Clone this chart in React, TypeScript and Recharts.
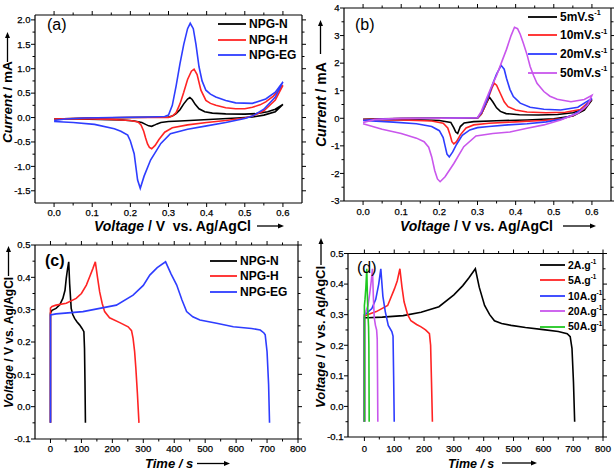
import React from 'react';
import { LineChart, Line, XAxis, YAxis, ReferenceLine, Legend } from 'recharts';

const FONT = '"Liberation Sans", Arial, Helvetica, sans-serif';
const BLACK = '#000000';
const RED = '#ff2424';
const BLUE = '#2e3dff';
const PURPLE = '#c956ec';
const GREEN = '#21c821';

// (a) CV of the three electrodes: forward scan 0 -> 0.6 V, then back to 0 V
const cvNV = [0, 0.05, 0.1, 0.2, 0.3, 0.31, 0.32, 0.33, 0.34, 0.35, 0.356, 0.362, 0.37, 0.38, 0.395, 0.415, 0.45, 0.5, 0.53, 0.56, 0.58, 0.6,
  0.58, 0.55, 0.52, 0.48, 0.43, 0.38, 0.33, 0.3, 0.28, 0.27, 0.262, 0.256, 0.248, 0.24, 0.23, 0.21, 0.18, 0.12, 0.06, 0];
const cvNI = [-0.03, -0.02, -0.01, 0, 0.01, 0.03, 0.08, 0.16, 0.28, 0.38, 0.41, 0.37, 0.27, 0.18, 0.12, 0.09, 0.075, 0.07, 0.08, 0.12, 0.17, 0.27,
  0.12, 0.05, 0.01, -0.01, -0.03, -0.05, -0.07, -0.08, -0.1, -0.13, -0.16, -0.18, -0.17, -0.14, -0.1, -0.07, -0.05, -0.04, -0.03, -0.03];
const cvHV = [0, 0.05, 0.1, 0.2, 0.3, 0.31, 0.32, 0.33, 0.34, 0.35, 0.36, 0.367, 0.375, 0.385, 0.398, 0.41, 0.424, 0.45, 0.476, 0.5, 0.52, 0.54, 0.555, 0.575, 0.6,
  0.58, 0.55, 0.52, 0.5, 0.45, 0.4, 0.35, 0.31, 0.29, 0.275, 0.265, 0.256, 0.25, 0.245, 0.24, 0.235, 0.228, 0.22, 0.2, 0.15, 0.1, 0.05, 0];
const cvHI = [-0.03, -0.02, -0.01, 0, 0, 0.03, 0.1, 0.28, 0.52, 0.78, 0.95, 0.99, 0.88, 0.56, 0.35, 0.29, 0.25, 0.2, 0.18, 0.18, 0.21, 0.26, 0.32, 0.44, 0.66,
  0.36, 0.14, 0.03, -0.01, -0.06, -0.1, -0.15, -0.21, -0.3, -0.45, -0.57, -0.64, -0.61, -0.54, -0.42, -0.28, -0.15, -0.09, -0.06, -0.04, -0.03, -0.03, -0.03];
const cvEGV = [0, 0.03, 0.08, 0.15, 0.25, 0.29, 0.3, 0.31, 0.32, 0.33, 0.34, 0.35, 0.357, 0.365, 0.372, 0.38, 0.388, 0.398, 0.41, 0.424, 0.45, 0.476, 0.52, 0.555, 0.58, 0.6,
  0.58, 0.55, 0.52, 0.5, 0.45, 0.4, 0.35, 0.305, 0.28, 0.253, 0.236, 0.226, 0.219, 0.21, 0.2, 0.193, 0.175, 0.158, 0.106, 0.05, 0];
const cvEGI = [-0.06, -0.03, -0.01, 0, 0.01, 0.02, 0.05, 0.25, 0.65, 1.1, 1.5, 1.82, 1.93, 1.82, 1.5, 1.04, 0.75, 0.56, 0.48, 0.42, 0.35, 0.3, 0.29, 0.38, 0.52, 0.73,
  0.42, 0.17, 0.03, -0.02, -0.1, -0.17, -0.24, -0.33, -0.53, -0.87, -1.2, -1.45, -1.28, -0.74, -0.48, -0.36, -0.28, -0.23, -0.14, -0.1, -0.08];

// (b) CV of NPG-EG at four scan rates
const cv5V = [0, 0.05, 0.1, 0.2, 0.3, 0.31, 0.32, 0.331, 0.34, 0.35, 0.36, 0.375, 0.41, 0.46, 0.51, 0.55, 0.58, 0.6,
  0.58, 0.55, 0.5, 0.43, 0.35, 0.29, 0.265, 0.255, 0.248, 0.243, 0.238, 0.23, 0.2, 0.1, 0];
const cv5I = [-0.04, -0.02, -0.01, 0, 0, 0.15, 0.45, 0.77, 0.6, 0.38, 0.25, 0.17, 0.13, 0.12, 0.14, 0.2, 0.35, 0.66,
  0.3, 0.08, -0.02, -0.06, -0.09, -0.12, -0.17, -0.3, -0.55, -0.5, -0.35, -0.15, -0.08, -0.05, -0.04];
const cv10V = [0, 0.05, 0.1, 0.2, 0.3, 0.31, 0.32, 0.33, 0.338, 0.344, 0.35, 0.36, 0.37, 0.38, 0.4, 0.43, 0.48, 0.53, 0.57, 0.6,
  0.58, 0.55, 0.52, 0.47, 0.4, 0.33, 0.29, 0.27, 0.255, 0.245, 0.238, 0.233, 0.228, 0.222, 0.21, 0.18, 0.1, 0];
const cv10I = [-0.05, -0.03, -0.01, 0, 0.01, 0.15, 0.45, 0.8, 1.1, 1.27, 1.2, 0.9, 0.6, 0.42, 0.3, 0.23, 0.2, 0.22, 0.32, 0.7,
  0.35, 0.1, -0.02, -0.08, -0.13, -0.18, -0.24, -0.35, -0.6, -0.85, -0.93, -0.85, -0.6, -0.35, -0.18, -0.1, -0.06, -0.05];
const cv20V = [0, 0.05, 0.1, 0.2, 0.3, 0.31, 0.32, 0.33, 0.34, 0.35, 0.362, 0.37, 0.376, 0.385, 0.394, 0.412, 0.438, 0.474, 0.518, 0.563, 0.6,
  0.58, 0.55, 0.52, 0.48, 0.43, 0.38, 0.33, 0.3, 0.28, 0.26, 0.245, 0.235, 0.226, 0.22, 0.215, 0.21, 0.2, 0.18, 0.14, 0.08, 0];
const cv20I = [-0.07, -0.03, -0.01, 0, 0.02, 0.2, 0.5, 0.85, 1.25, 1.6, 1.92, 1.78, 1.45, 1.05, 0.79, 0.55, 0.4, 0.33, 0.3, 0.4, 0.72,
  0.38, 0.12, -0.03, -0.13, -0.2, -0.24, -0.3, -0.34, -0.42, -0.62, -0.95, -1.22, -1.4, -1.3, -1.0, -0.7, -0.45, -0.3, -0.2, -0.14, -0.08];
const cv50V = [0, 0.03, 0.08, 0.2, 0.3, 0.31, 0.32, 0.335, 0.35, 0.365, 0.376, 0.388, 0.397, 0.405, 0.412, 0.42, 0.43, 0.438, 0.447, 0.456, 0.474, 0.49, 0.509, 0.545, 0.58, 0.6,
  0.589, 0.563, 0.518, 0.474, 0.43, 0.385, 0.34, 0.296, 0.264, 0.238, 0.215, 0.202, 0.195, 0.188, 0.18, 0.172, 0.16, 0.14, 0.1, 0.05, 0];
const cv50I = [-0.15, -0.05, -0.01, 0, 0.02, 0.25, 0.6, 1.1, 1.55, 2.1, 2.5, 3.0, 3.3, 3.25, 3.05, 2.73, 2.3, 1.88, 1.55, 1.27, 0.97, 0.8, 0.69, 0.6, 0.68, 0.83,
  0.48, 0.18, -0.06, -0.24, -0.36, -0.5, -0.55, -0.64, -1.03, -1.64, -2.12, -2.3, -2.2, -1.9, -1.4, -1.05, -0.85, -0.72, -0.55, -0.4, -0.2];

// (c) charge/discharge of the three electrodes
const gcdNT = [0, 0, 5, 18, 30, 40, 47, 51, 55, 59, 62, 67, 72, 78, 86, 94, 102, 108, 110, 111.5, 113];
const gcdNV = [-0.05, 0.29, 0.298, 0.304, 0.315, 0.335, 0.36, 0.397, 0.425, 0.448, 0.38, 0.304, 0.285, 0.273, 0.262, 0.253, 0.242, 0.232, 0.18, 0.08, -0.05];
const gcdHT = [0, 0, 5, 18, 51, 83, 100, 116, 128, 137, 145, 152, 159, 167, 175, 191, 224, 251, 262, 267, 272, 276, 281, 286];
const gcdHV = [-0.05, 0.305, 0.31, 0.314, 0.32, 0.335, 0.35, 0.376, 0.405, 0.427, 0.448, 0.4, 0.355, 0.32, 0.294, 0.275, 0.26, 0.247, 0.235, 0.211, 0.17, 0.118, 0.04, -0.05];
const gcdEGT = [0, 0, 18, 105, 213, 267, 300, 321, 345, 372, 390, 408, 425, 440, 460, 483, 537, 591, 650, 678, 690, 694, 700, 705, 708];
const gcdEGV = [-0.05, 0.284, 0.287, 0.294, 0.314, 0.345, 0.375, 0.407, 0.43, 0.448, 0.41, 0.376, 0.33, 0.294, 0.278, 0.268, 0.258, 0.247, 0.242, 0.237, 0.228, 0.222, 0.17, 0.068, -0.05];

// (d) charge/discharge of NPG-EG at five current densities
const gcd2T = [0, 0, 10, 60, 130, 190, 250, 300, 330, 350, 372, 385, 403, 420, 436, 460, 492, 540, 600, 650, 680, 690, 696, 701, 705];
const gcd2V = [-0.05, 0.29, 0.29, 0.292, 0.297, 0.308, 0.326, 0.365, 0.395, 0.42, 0.45, 0.39, 0.33, 0.3, 0.28, 0.271, 0.265, 0.258, 0.251, 0.245, 0.238, 0.228, 0.19, 0.08, -0.05];
const gcd5T = [0, 0, 10, 40, 78, 101, 110, 119, 126, 133, 145, 156, 175, 190, 205, 218, 222, 225, 228];
const gcd5V = [-0.05, 0.295, 0.3, 0.31, 0.33, 0.385, 0.41, 0.45, 0.39, 0.342, 0.3, 0.28, 0.268, 0.26, 0.25, 0.238, 0.2, 0.08, -0.05];
const gcd10T = [0, 0, 8, 25, 38, 48, 55, 62, 70, 80, 92, 96, 98, 100];
const gcd10V = [-0.05, 0.3, 0.305, 0.32, 0.35, 0.4, 0.45, 0.36, 0.31, 0.265, 0.245, 0.23, 0.1, -0.05];
const gcd20T = [0, 0, 5, 12, 18, 23, 27, 30, 33, 37, 41, 43, 44, 45];
const gcd20V = [-0.05, 0.3, 0.31, 0.33, 0.37, 0.41, 0.45, 0.36, 0.29, 0.265, 0.25, 0.22, 0.1, -0.05];
const gcd50T = [0, 0, 2, 5, 8, 10, 12, 14, 15, 16];
const gcd50V = [-0.05, 0.33, 0.35, 0.39, 0.45, 0.36, 0.3, 0.26, 0.2, -0.05];

// tick labels
const cvXTicks = [0, 0.1, 0.2, 0.3, 0.4, 0.5, 0.6];
const aYTicks = [-1.5, -1, -0.5, 0, 0.5, 1, 1.5, 2];
const bYTicks = [-3, -2, -1, 0, 1, 2, 3, 4];
const gcdXTicks = [0, 100, 200, 300, 400, 500, 600, 700, 800];
const gcdYTicks = [-0.1, 0, 0.1, 0.2, 0.3, 0.4, 0.5];

type Pt = { x: number; y: number };
type Series = { name: string; color: string; data: Pt[] };
const zip = (xs: number[], ys: number[]): Pt[] => xs.map((x, k) => ({ x, y: ys[k] }));
const mids = (t: number[]) => t.slice(1).map((v, k) => (v + t[k]) / 2);
const near = (a: number, list: number[]) => list.some((b) => Math.abs(a - b) < 1e-9);

type Title = { italic: string; rest: string; x: number; y: number; size: number; a0: number; a1: number; ax: number };
type Panel = {
  box: [number, number, number, number];
  xDomain: [number, number];
  yDomain: [number, number];
  xTicks: number[];
  yTicks: number[];
  xDigits: number;
  yDigits: number;
  xLabelDy: number;
  series: Series[];
  legend: { left: number; mid: number; gap: number; line: number; size: number; sup: boolean };
  letter: { text: string; x: number; y: number; bold: boolean };
  xTitle: Title;
  yTitle: Title;
};

const panels: Panel[] = [
  {
    box: [35, 15, 302, 203],
    xDomain: [-0.05, 0.65],
    yDomain: [-1.75, 2.1],
    xTicks: cvXTicks,
    yTicks: aYTicks,
    xDigits: 1,
    yDigits: 1,
    xLabelDy: 12.5,
    series: [
      { name: 'NPG-N', color: BLACK, data: zip(cvNV, cvNI) },
      { name: 'NPG-H', color: RED, data: zip(cvHV, cvHI) },
      { name: 'NPG-EG', color: BLUE, data: zip(cvEGV, cvEGI) },
    ],
    legend: { left: 218, mid: 24, gap: 15.5, line: 28, size: 12, sup: false },
    letter: { text: '(a)', x: 47, y: 30, bold: false },
    xTitle: { italic: 'Voltage', rest: ' / V  vs. Ag/AgCl', x: 94, y: 231, size: 14, a0: 257, a1: 284, ax: 226 },
    yTitle: { italic: 'Current', rest: ' / mA', x: 12, y: 143, size: 13.5, a0: 62, a1: 32, ax: 7.5 },
  },
  {
    box: [344, 8, 611, 201],
    xDomain: [-0.05, 0.65],
    yDomain: [-3, 4],
    xTicks: cvXTicks,
    yTicks: bYTicks,
    xDigits: 1,
    yDigits: 0,
    xLabelDy: 14,
    series: [
      { name: '5mV.s', color: BLACK, data: zip(cv5V, cv5I) },
      { name: '10mV.s', color: RED, data: zip(cv10V, cv10I) },
      { name: '20mV.s', color: BLUE, data: zip(cv20V, cv20I) },
      { name: '50mV.s', color: PURPLE, data: zip(cv50V, cv50I) },
    ],
    legend: { left: 528, mid: 16.7, gap: 18.7, line: 29, size: 12, sup: true },
    letter: { text: '(b)', x: 355, y: 30, bold: false },
    xTitle: { italic: 'Voltage', rest: ' / V vs. Ag/AgCl', x: 400, y: 231, size: 14, a0: 563, a1: 596, ax: 226 },
    yTitle: { italic: 'Current', rest: ' / mA', x: 326, y: 147, size: 14, a0: 54, a1: 20, ax: 320.5 },
  },
  {
    box: [35, 245, 298, 439],
    xDomain: [-50, 800],
    yDomain: [-0.1, 0.5],
    xTicks: gcdXTicks,
    yTicks: gcdYTicks,
    xDigits: 0,
    yDigits: 1,
    xLabelDy: 12.6,
    series: [
      { name: 'NPG-N', color: BLACK, data: zip(gcdNT, gcdNV) },
      { name: 'NPG-H', color: RED, data: zip(gcdHT, gcdHV) },
      { name: 'NPG-EG', color: BLUE, data: zip(gcdEGT, gcdEGV) },
    ],
    legend: { left: 210, mid: 261, gap: 15.3, line: 27, size: 12, sup: false },
    letter: { text: '(c)', x: 45, y: 266, bold: true },
    xTitle: { italic: 'Time / s', rest: '', x: 145, y: 468, size: 13, a0: 197, a1: 230, ax: 463.5 },
    yTitle: { italic: 'Voltage', rest: ' / V vs. Ag/AgCl', x: 13, y: 408, size: 12, a0: 276, a1: 246, ax: 8.5 },
  },
  {
    box: [348, 253.5, 603, 437],
    xDomain: [-55, 800],
    yDomain: [-0.1, 0.5],
    xTicks: gcdXTicks,
    yTicks: gcdYTicks,
    xDigits: 0,
    yDigits: 1,
    xLabelDy: 15.3,
    series: [
      { name: '2A.g', color: BLACK, data: zip(gcd2T, gcd2V) },
      { name: '5A.g', color: RED, data: zip(gcd5T, gcd5V) },
      { name: '10A.g', color: BLUE, data: zip(gcd10T, gcd10V) },
      { name: '20A.g', color: PURPLE, data: zip(gcd20T, gcd20V) },
      { name: '50A.g', color: GREEN, data: zip(gcd50T, gcd50V) },
    ],
    legend: { left: 540, mid: 265, gap: 15.4, line: 25, size: 10.5, sup: true },
    letter: { text: '(d)', x: 357, y: 273, bold: false },
    xTitle: { italic: 'Time / s', rest: '', x: 448, y: 467.5, size: 12.5, a0: 502, a1: 537, ax: 463 },
    yTitle: { italic: 'Voltage', rest: ' / V vs. Ag/AgCl', x: 325, y: 408, size: 13, a0: 265, a1: 238, ax: 321 },
  },
];

const tickText = { fontSize: 9.5, fontFamily: FONT, fill: '#000', stroke: '#000', strokeWidth: 0.25 };

function renderXTick(cfg: Panel) {
  return (p: any) => {
    const v = p.payload.value;
    const major = near(v, cfg.xTicks);
    const len = major ? 4 : 2.5;
    const top = cfg.box[1];
    const bottom = cfg.box[3];
    return (
      <g>
        <line x1={p.x} x2={p.x} y1={bottom} y2={bottom + len} stroke="#000" strokeWidth={1} />
        <line x1={p.x} x2={p.x} y1={top} y2={top - len} stroke="#000" strokeWidth={1} />
        {major && (
          <text x={p.x} y={bottom + cfg.xLabelDy} textAnchor="middle" {...tickText}>
            {v.toFixed(cfg.xDigits)}
          </text>
        )}
      </g>
    );
  };
}

function renderYTick(cfg: Panel) {
  return (p: any) => {
    const v = p.payload.value;
    const major = near(v, cfg.yTicks);
    const len = major ? 4 : 2.5;
    const left = cfg.box[0];
    const right = cfg.box[2];
    return (
      <g>
        <line x1={left - len} x2={left} y1={p.y} y2={p.y} stroke="#000" strokeWidth={1} />
        <line x1={right} x2={right + len} y1={p.y} y2={p.y} stroke="#000" strokeWidth={1} />
        {major && (
          <text x={left - 4.5} y={p.y + 3.3} textAnchor="end" {...tickText}>
            {v.toFixed(cfg.yDigits)}
          </text>
        )}
      </g>
    );
  };
}

function XTitle({ t }: { t: Title }) {
  return (
    <g>
      <text x={t.x} y={t.y} fontFamily={FONT} fontSize={t.size} fontWeight="bold" fill="#000" style={{ whiteSpace: 'pre' }}>
        <tspan fontStyle="italic">{t.italic}</tspan>
        {t.rest && <tspan>{t.rest}</tspan>}
      </text>
      <line x1={t.a0} x2={t.a1 - 4} y1={t.ax} y2={t.ax} stroke="#000" strokeWidth={1.3} />
      <polygon points={`${t.a1},${t.ax} ${t.a1 - 6},${t.ax - 2.5} ${t.a1 - 6},${t.ax + 2.5}`} fill="#000" />
    </g>
  );
}

function YTitle({ t, letter }: { t: Title; letter: Panel['letter'] }) {
  return (
    <g>
      <text
        x={t.x}
        y={t.y}
        transform={`rotate(-90 ${t.x} ${t.y})`}
        fontFamily={FONT}
        fontSize={t.size}
        fontWeight="bold"
        fill="#000"
        style={{ whiteSpace: 'pre' }}
      >
        <tspan fontStyle="italic">{t.italic}</tspan>
        <tspan>{t.rest}</tspan>
      </text>
      <line x1={t.ax} x2={t.ax} y1={t.a0} y2={t.a1 + 4} stroke="#000" strokeWidth={1.3} />
      <polygon points={`${t.ax},${t.a1} ${t.ax - 2.5},${t.a1 + 6} ${t.ax + 2.5},${t.a1 + 6}`} fill="#000" />
      <text x={letter.x} y={letter.y} fontFamily={FONT} fontSize={16} fontWeight={letter.bold ? 'bold' : 'normal'} fill="#000">
        {letter.text}
      </text>
    </g>
  );
}

function LegendBox({ cfg }: { cfg: Panel }) {
  const L = cfg.legend;
  return (
    <div style={{ fontFamily: FONT, fontWeight: 'bold', fontSize: L.size, color: '#000', lineHeight: 1 }}>
      {cfg.series.map((s) => (
        <div key={s.name} style={{ height: L.gap, display: 'flex', alignItems: 'center', whiteSpace: 'nowrap' }}>
          <svg width={L.line} height={4} style={{ marginRight: 3, display: 'block' }}>
            <line x1={0} x2={L.line} y1={2} y2={2} stroke={s.color} strokeWidth={1.8} />
          </svg>
          <span>
            {s.name}
            {L.sup && (
              <span style={{ fontSize: '0.6em', position: 'relative', top: '-0.75em' }}>-1</span>
            )}
          </span>
        </div>
      ))}
    </div>
  );
}

function PanelChart({ cfg }: { cfg: Panel }) {
  const [x0, y0, x1, y1] = cfg.box;
  const xAll = [...cfg.xTicks, ...mids(cfg.xTicks)].sort((a, b) => a - b);
  const yAll = [...cfg.yTicks, ...mids(cfg.yTicks)].sort((a, b) => a - b);
  return (
    <div style={{ position: 'absolute', left: 0, top: 0 }}>
      <LineChart width={614} height={470} margin={{ top: y0, left: x0 - 20, right: 614 - x1, bottom: 470 - y1 - 20 }}>
        <XAxis
          type="number"
          dataKey="x"
          domain={cfg.xDomain}
          ticks={xAll}
          interval={0}
          height={20}
          tickSize={0}
          tickMargin={0}
          tickLine={false}
          allowDataOverflow
          axisLine={{ stroke: '#000', strokeWidth: 1.2 }}
          tick={renderXTick(cfg)}
          label={{ content: () => <XTitle t={cfg.xTitle} /> }}
        />
        <YAxis
          type="number"
          domain={cfg.yDomain}
          ticks={yAll}
          interval={0}
          width={20}
          tickSize={0}
          tickMargin={0}
          tickLine={false}
          allowDataOverflow
          axisLine={{ stroke: '#000', strokeWidth: 1.2 }}
          tick={renderYTick(cfg)}
          label={{ content: () => <YTitle t={cfg.yTitle} letter={cfg.letter} /> }}
        />
        <ReferenceLine y={cfg.yDomain[1]} stroke="#000" strokeWidth={1.2} ifOverflow="visible" />
        <ReferenceLine x={cfg.xDomain[1]} stroke="#000" strokeWidth={1.2} ifOverflow="visible" />
        {cfg.series.map((s) => (
          <Line
            key={s.name}
            data={s.data}
            dataKey="y"
            name={s.name}
            type="linear"
            stroke={s.color}
            strokeWidth={1.6}
            dot={false}
            activeDot={false}
            isAnimationActive={false}
          />
        ))}
        <Legend
          layout="vertical"
          align="center"
          verticalAlign="middle"
          wrapperStyle={{ left: cfg.legend.left, top: cfg.legend.mid - cfg.legend.gap / 2, width: 'auto', height: 'auto' }}
          content={() => <LegendBox cfg={cfg} />}
        />
      </LineChart>
    </div>
  );
}

export default function App() {
  return (
    <div style={{ position: 'absolute', left: 0, top: 0, width: 614, height: 470, background: '#fff' }}>
      {panels.map((p, k) => (
        <PanelChart key={k} cfg={p} />
      ))}
    </div>
  );
}
